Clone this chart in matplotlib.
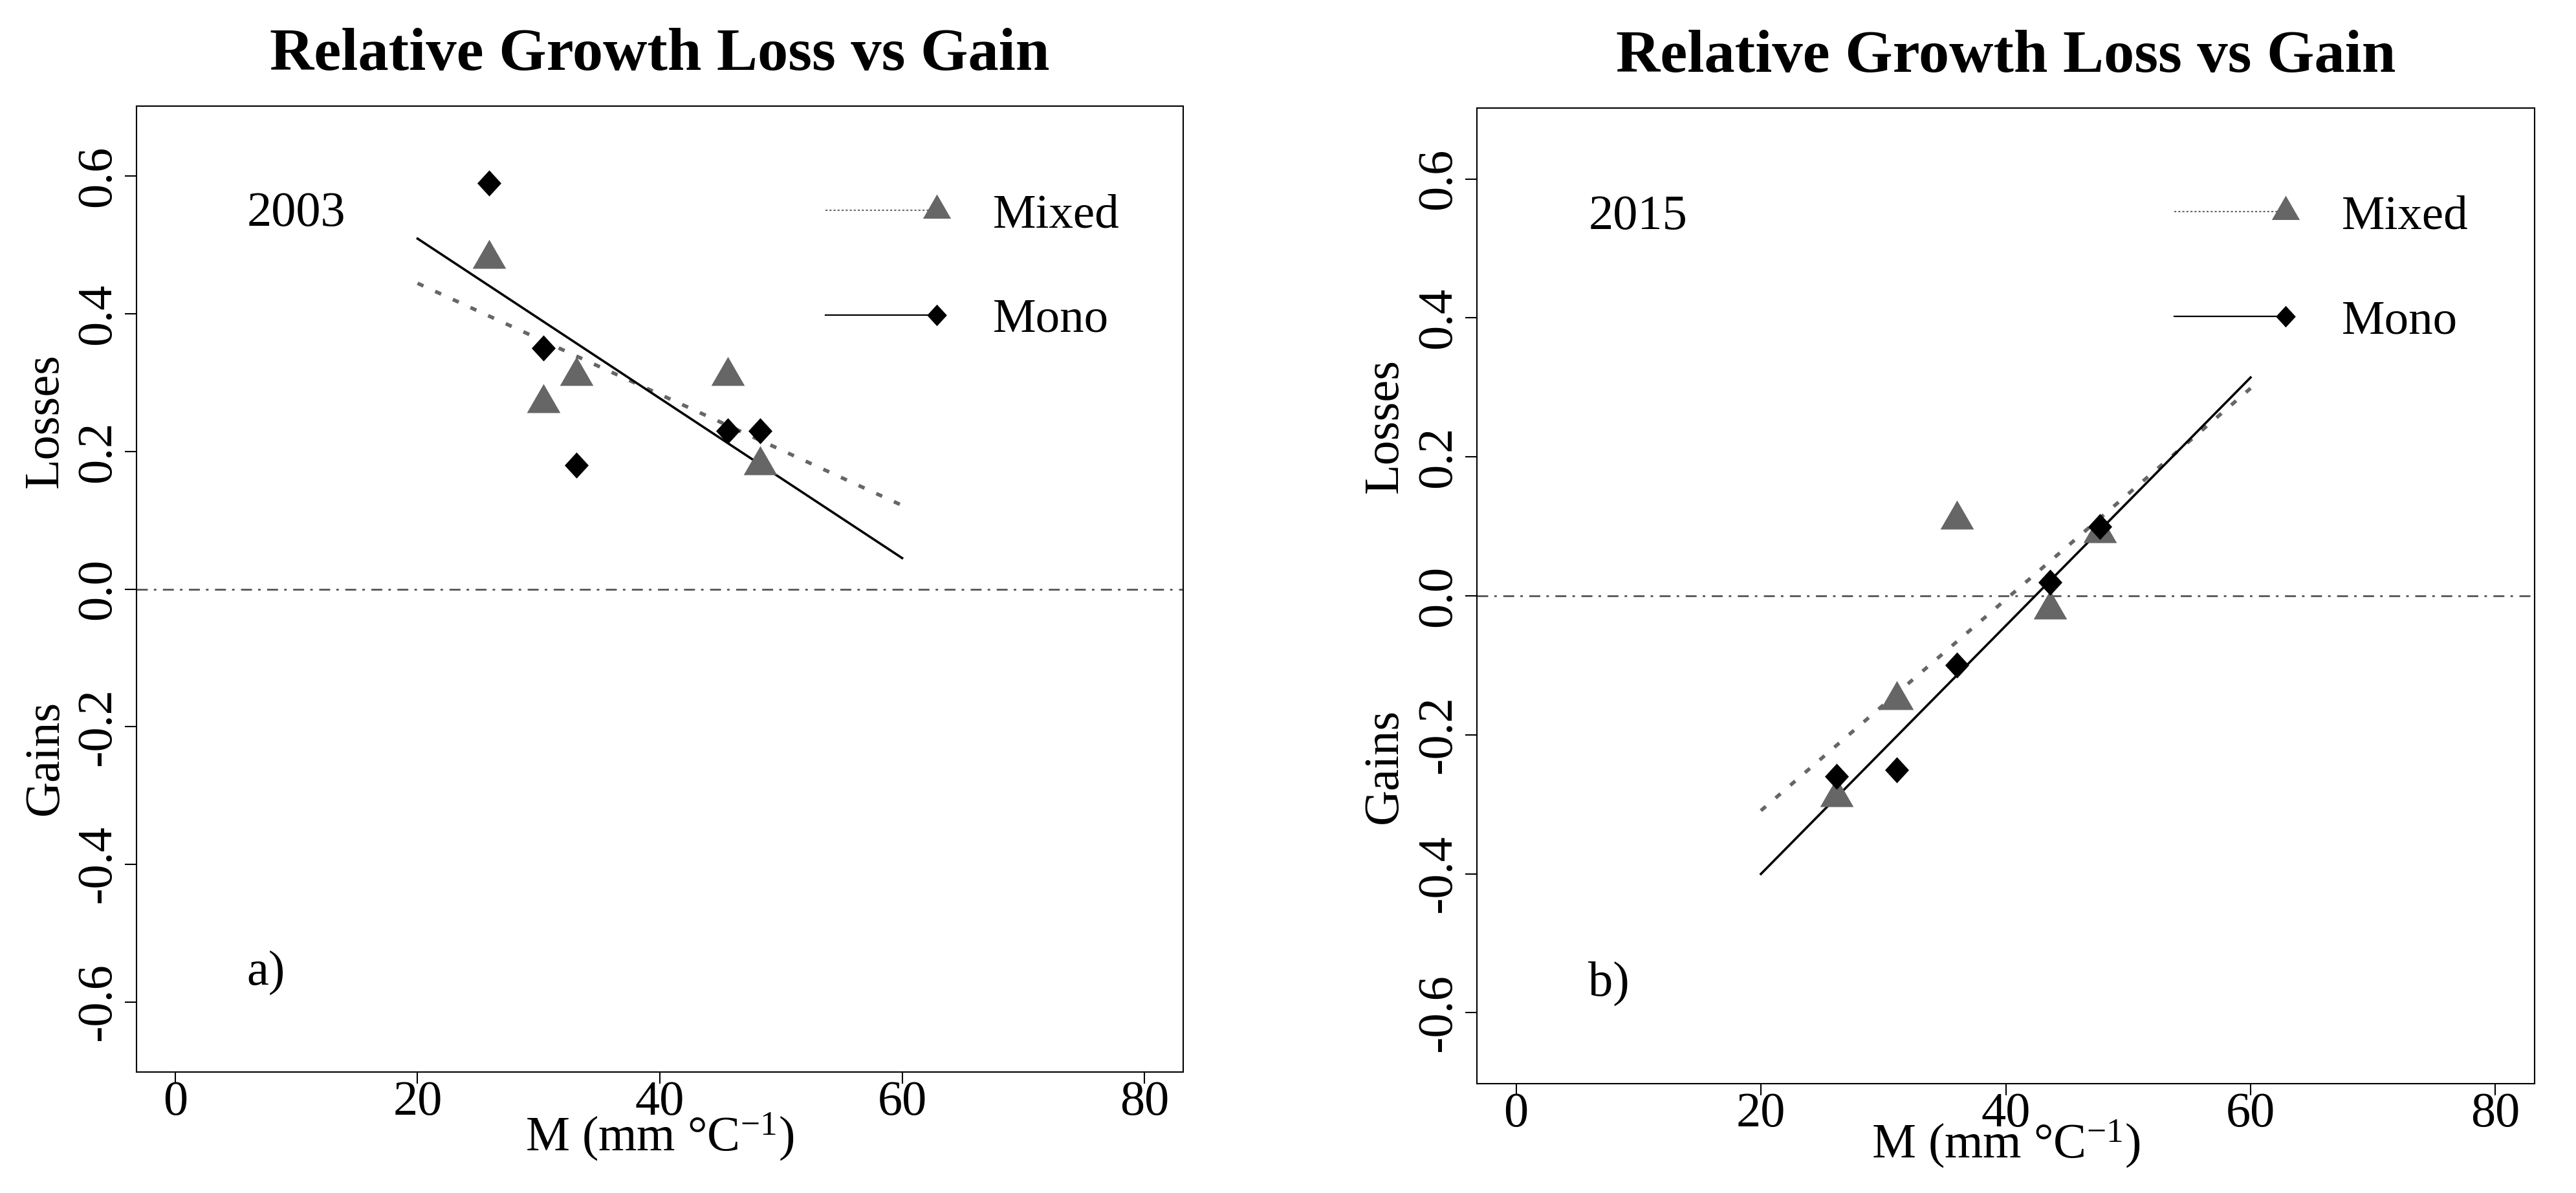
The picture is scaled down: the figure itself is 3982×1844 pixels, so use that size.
import numpy as np
import matplotlib
matplotlib.use('Agg')
import matplotlib.pyplot as plt
from matplotlib.lines import Line2D
from matplotlib.path import Path
from matplotlib.legend_handler import HandlerLine2D

plt.rcParams['font.family'] = ['Liberation Serif', 'DejaVu Serif']
plt.rcParams['mathtext.fontset'] = 'custom'
plt.rcParams['mathtext.rm'] = 'Liberation Serif'
plt.rcParams['mathtext.it'] = 'Liberation Serif:italic'
plt.rcParams['axes.unicode_minus'] = False

# -----------------------------
# data
# -----------------------------
years = ['2003', '2015']
panel_tags = ['a)', 'b)']
m_2003 = [25.9, 30.4, 33.1, 45.6, 48.3]
mixed_2003 = [0.48, 0.27, 0.31, 0.31, 0.18]
mono_2003 = [0.59, 0.35, 0.18, 0.23, 0.23]
m_2015 = [26.2, 31.1, 36.0, 43.6, 47.7]
mixed_2015 = [-0.29, -0.15, 0.11, -0.02, 0.09]
mono_2015 = [-0.26, -0.25, -0.10, 0.02, 0.10]
fit_range = [20, 60]
x_ticks = [0, 20, 40, 60, 80]
y_ticks = [-0.6, -0.4, -0.2, 0.0, 0.2, 0.4, 0.6]

GRAY = '#666666'
FS = 55

# R style markers: triangle centred on its centroid, filled diamond
tri = Path([(0, 1), (-0.866, -0.5), (0.866, -0.5), (0, 1)], closed=True)
dia = Path([(0, 1), (0.92, 0), (0, -1), (-0.92, 0), (0, 1)], closed=True)


class EndMarker(HandlerLine2D):
    # put the legend point at the right end of the key line, like R does here
    def create_artists(self, *args, **kwargs):
        arts = super().create_artists(*args, **kwargs)
        for a in arts:
            a.set_markevery([2])
        return arts


fig = plt.figure(figsize=(39.82, 18.44), dpi=100)
rects = [[0.05299, 0.10141, 0.40633, 0.80965],
         [0.57333, 0.09165, 0.41060, 0.81779]]
panels = [(m_2003, mixed_2003, mono_2003), (m_2015, mixed_2015, mono_2015)]
xlab_y = [-0.0817, -0.0763]
leg_anchor = [(0.9394, 0.9096), (0.9376, 0.9110)]

for i, (m, mixed, mono) in enumerate(panels):
    ax = fig.add_axes(rects[i])
    ax.set_xlim(-3.2, 83.2)
    ax.set_ylim(-0.702, 0.702)

    ax.axhline(0, color='#555555', lw=2.0, dashes=(6.1, 3.4, 1.4, 3.6))

    # fitted lines over the 20-60 range
    fx = np.array(fit_range)
    b_mix = np.polyfit(m, mixed, 1)
    b_mono = np.polyfit(m, mono, 1)
    ax.plot(fx, np.polyval(b_mix, fx), color=GRAY, lw=4.0, dashes=(1.8, 3.6))
    ax.plot(fx, np.polyval(b_mono, fx), color='black', lw=2.6)

    ax.plot(m, mixed, ls='none', marker=tri, ms=43, color=GRAY, mew=0)
    ax.plot(m, mono, ls='none', marker=dia, ms=29, color='black', mew=0)

    # axes, ticks and labels
    for s in ax.spines.values():
        s.set_linewidth(1.5)
    ax.set_xticks(x_ticks, [str(v) for v in x_ticks])
    ax.set_yticks(y_ticks, [f'{v:.1f}' for v in y_ticks], rotation=90, va='center')
    ax.tick_params(axis='both', direction='out', length=13, width=1.5, labelsize=FS)
    ax.tick_params(axis='x', pad=-3.5)
    ax.tick_params(axis='y', pad=5)

    ax.set_xlabel('M (mm °C$^{-1}$)', fontsize=FS)
    ax.xaxis.set_label_coords(0.5, xlab_y[i])
    ax.xaxis.label.set_va('baseline')

    ytrans = ax.get_yaxis_transform()
    ax.text(-0.087, 0.245, 'Losses', transform=ytrans, rotation=90,
            ha='center', va='center', fontsize=FS)
    ax.text(-0.087, -0.245, 'Gains', transform=ytrans, rotation=90,
            ha='center', va='center', fontsize=FS)

    ax.set_title('Relative Growth Loss vs Gain', fontsize=68, fontweight='bold', pad=40)

    ax.text(5.9, 0.528, years[i], ha='left', va='baseline', fontsize=FS)
    ax.text(5.9, -0.575, panel_tags[i], ha='left', va='baseline', fontsize=FS)

    h_mix = Line2D([], [], color=GRAY, lw=1.5, ls=(0, (1.5, 1.5)),
                   marker=tri, ms=36, mew=0)
    h_mono = Line2D([], [], color='black', lw=1.6, marker=dia, ms=24, mew=0)
    ax.legend([h_mix, h_mono], ['Mixed', 'Mono'], loc='upper right',
              bbox_to_anchor=leg_anchor[i], frameon=False, fontsize=54,
              borderpad=0, borderaxespad=0, handlelength=2.29,
              handletextpad=1.17, labelspacing=1.24, numpoints=1,
              handler_map={Line2D: EndMarker()})

fig.savefig('out.png', dpi=100)
